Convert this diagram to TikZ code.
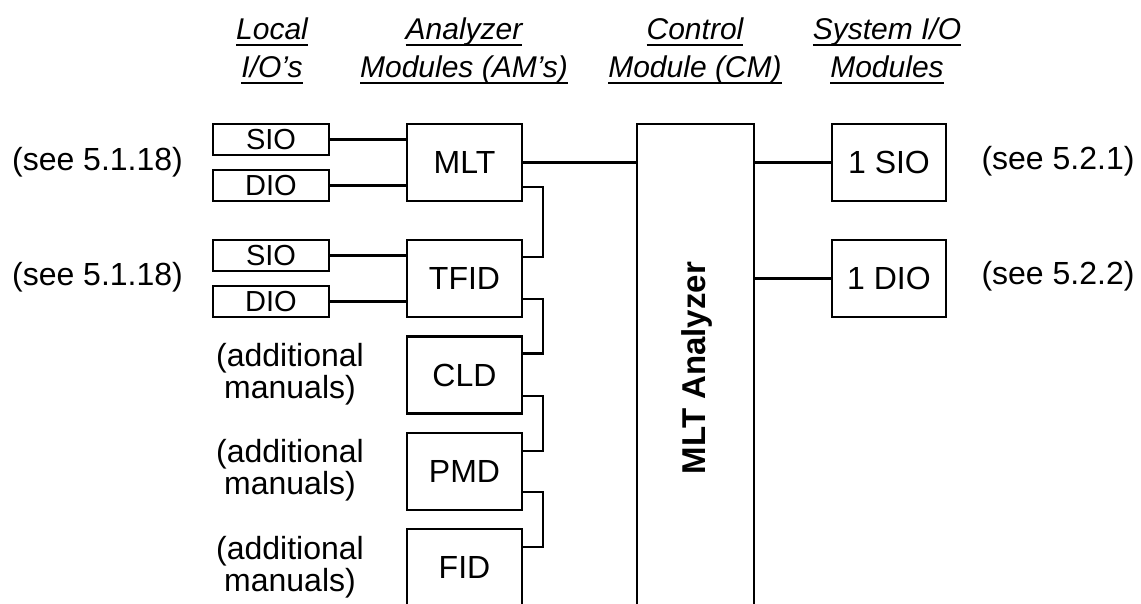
\documentclass[tikz,border=0pt]{standalone}
\usepackage{fontspec}
\setmainfont{Liberation Sans}
\usetikzlibrary{calc}
\newcommand\hdrul[1]{{\setbox0\hbox{#1}\dimen0=\wd0 \rlap{\box0}\rule[-6pt]{\dimen0}{2pt}}}
\newcommand\sq{\char39\relax}
\tikzset{
  bigbox/.style={draw, inner sep=0pt, minimum width=115pt, minimum height=77pt, font=\fontsize{32}{34}\selectfont},
  smallbox/.style={draw, inner sep=0pt, minimum width=116pt, minimum height=31pt, font=\fontsize{29}{30}\selectfont},
  hdr/.style={align=center, inner sep=0pt, font=\fontsize{30}{38}\selectfont\itshape},
  lbl/.style={align=center, inner sep=0pt, font=\fontsize{32}{32}\selectfont},
}
\begin{document}
\begin{tikzpicture}[x=1pt,y=-1pt,line width=2.3pt]
\useasboundingbox (0,0) rectangle (1141,603);
\clip (0,0) rectangle (1141,603);
% headers
\node[hdr] (h1) at (272,51) {\hdrul{Local}\\\hdrul{I/O\sq s}};
\node[hdr] (h2) at (464,51) {\hdrul{Analyzer}\\\hdrul{Modules (AM\sq s)}};
\node[hdr] (h3) at (695,51) {\hdrul{Control}\\\hdrul{Module (CM)}};
\node[hdr] (h4) at (887,51) {\hdrul{System I/O}\\\hdrul{Modules}};
% local I/O
\node[smallbox] (sio1) at (271,139.5) {SIO};
\node[smallbox] (dio1) at (271,185.5) {DIO};
\node[smallbox] (sio2) at (271,255.5) {SIO};
\node[smallbox] (dio2) at (271,301.5) {DIO};
% analyzer modules
\node[bigbox] (mlt) at (464.5,162.5) {MLT};
\node[bigbox] (tfid) at (464.5,278.5) {TFID};
\node[bigbox] (cld) at (464.5,375) {CLD};
\node[bigbox] (pmd) at (464.5,471.5) {PMD};
\node[bigbox] (fid) at (464.5,567.5) {FID};
% control module
\node[draw, inner sep=0pt, minimum width=117pt, minimum height=500pt] (cm) at (695.5,374) {};
\node[rotate=90, inner sep=0pt, font=\fontsize{33}{34}\selectfont\bfseries] (cmlabel) at (697,368) {MLT Analyzer};
% system I/O
\node[bigbox, minimum width=114pt] (ssio) at (889,162.5) {1 SIO};
\node[bigbox, minimum width=114pt] (sdio) at (889,278.5) {1 DIO};
% side labels
\node[lbl] (l1) at (97.5,162) {(see 5.1.18)};
\node[lbl] (l2) at (97.5,277) {(see 5.1.18)};
\node[lbl] (r1) at (1058,161) {(see 5.2.1)};
\node[lbl] (r2) at (1058,276) {(see 5.2.2)};
\node[lbl] (a1) at (290,374) {(additional\\manuals)};
\node[lbl] (a2) at (290,470) {(additional\\manuals)};
\node[lbl] (a3) at (290,567) {(additional\\manuals)};
% wires local -> AM
\draw (sio1.east) -- (sio1.east -| mlt.west);
\draw (dio1.east) -- (dio1.east -| mlt.west);
\draw (sio2.east) -- (sio2.east -| tfid.west);
\draw (dio2.east) -- (dio2.east -| tfid.west);
% AM chain
\draw ([yshift=15pt]mlt.south east) -- ++(20,0) |- ([yshift=-18pt]tfid.north east);
\draw ([yshift=19pt]tfid.south east) -- ++(20,0) |- ([yshift=-18pt]cld.north east);
\draw ([yshift=19pt]cld.south east) -- ++(20,0) |- ([yshift=-19pt]pmd.north east);
\draw ([yshift=19pt]pmd.south east) -- ++(20,0) |- ([yshift=-19pt]fid.north east);
% MLT -> CM
\draw (mlt.east) -- (mlt.east -| cm.west);
% CM -> system
\draw (ssio.west -| cm.east) -- (ssio.west);
\draw (sdio.west -| cm.east) -- (sdio.west);
\end{tikzpicture}
\end{document}
